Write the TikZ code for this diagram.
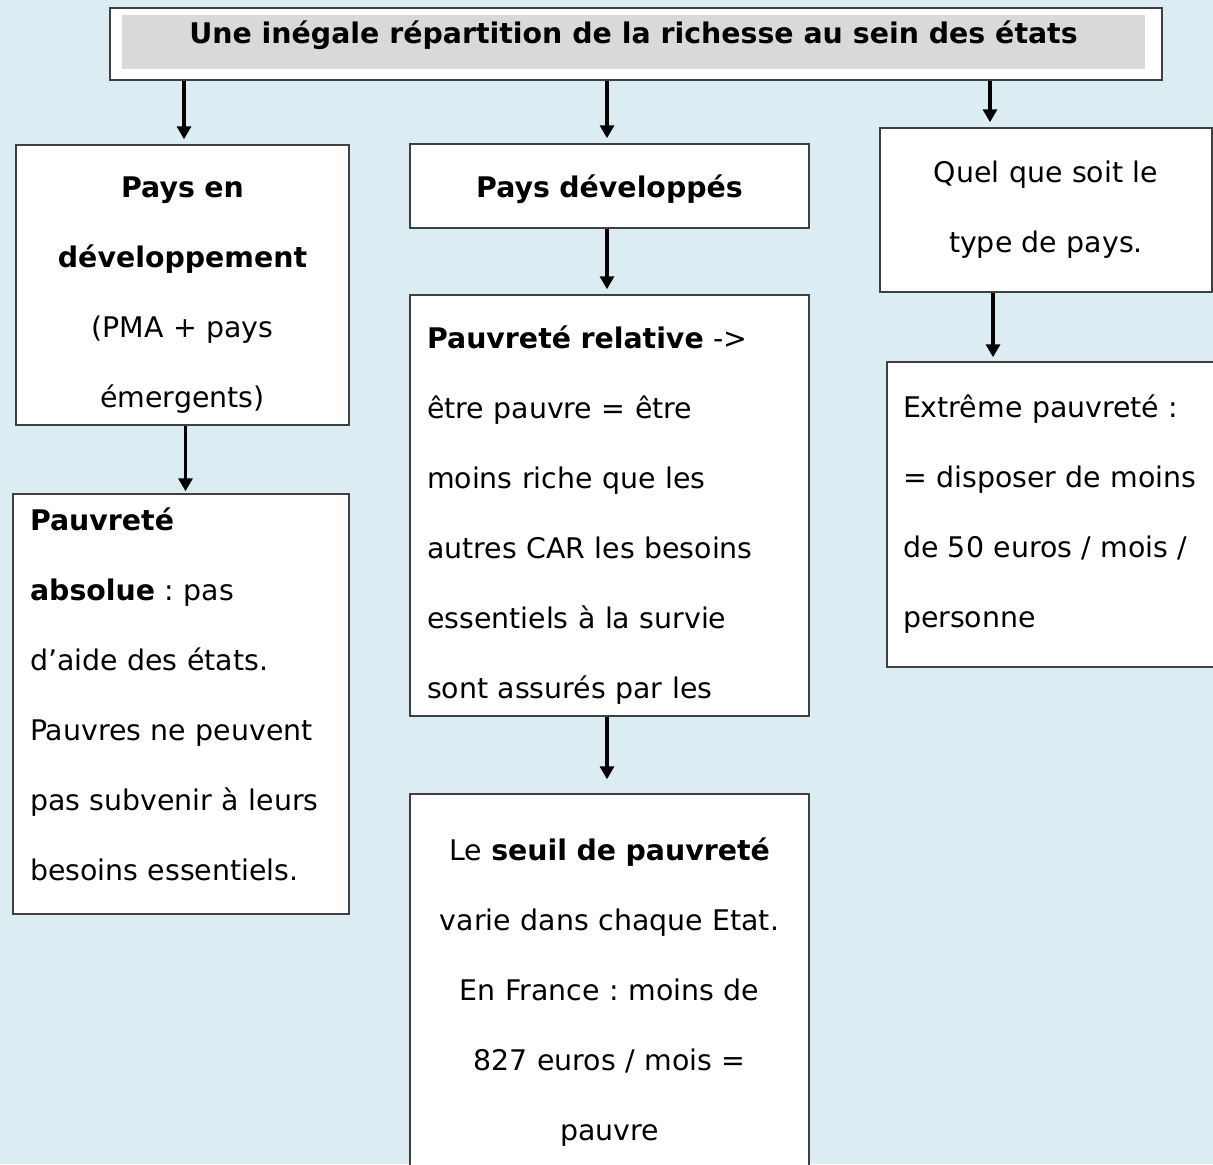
\documentclass[tikz,border=0pt]{standalone}
\usepackage{fontspec}
\setmainfont{DejaVu Sans}
\usetikzlibrary{arrows.meta}
\definecolor{fondbleu}{HTML}{DBEDF3}
\definecolor{grisclair}{HTML}{D9D9D9}
\definecolor{bord}{HTML}{404040}
\frenchspacing
% extra space (or less, if negative) below the last line of a box
\newcommand{\finbas}[1]{\par\vspace*{#1}\hrule height 0pt width 0pt}
\begin{document}
\begin{tikzpicture}
[x=0.5pt,y=-0.5pt,
  boite/.style={shape=rectangle,draw=bord,line width=0.75pt,fill=white,
    inner xsep=8.5pt,inner ysep=0pt,
    font=\fontsize{14.2}{35}\selectfont},%
  centre/.style={boite,align=center},%
  gauche/.style={boite,align=left},%
  fleche/.style={draw,line width=1.9pt,-{Triangle[length=6.5pt,width=7pt]},shorten >=2.5pt}]
\fill[fondbleu] (0,0) rectangle (1213,1164);
\useasboundingbox (0,0) rectangle (1213,1164);
%% title
\node (cadre) at (636,44) [boite,minimum width=526pt,minimum height=36pt] {};
\fill[grisclair] (122,15) rectangle (1145,69);
\node (titre) at (633.5,35) [inner sep=0pt,font=\fontsize{14.2}{17}\selectfont\bfseries]
  {Une inégale répartition de la richesse au sein des états};
%% boxes
\node (pvd) at (182.5,285) [centre,minimum width=166.5pt,minimum height=140pt,text width=149.5pt]
  {\textbf{Pays en}\\ \textbf{développement}\\ (PMA + pays\\ émergents)\finbas{-10pt}};
\node (absolue) at (181,704) [gauche,minimum width=168pt,minimum height=210pt,text width=151pt]
  {\textbf{Pauvreté}\\ \textbf{absolue} : pas\\ d’aide des états.\\ Pauvres ne peuvent\\
   pas subvenir à leurs\\ besoins essentiels.\finbas{10pt}};
\node (pd) at (609.5,186) [centre,minimum width=199.5pt,minimum height=42pt,text width=182.5pt]
  {\textbf{Pays développés}\finbas{-3pt}};
\node (relative) at (609.5,505.5) [gauche,minimum width=199.5pt,minimum height=210.5pt,text width=182.5pt]
  {\textbf{Pauvreté relative} ->\\ être pauvre = être\\ moins riche que les\\
   autres CAR les besoins\\ essentiels à la survie\\ sont assurés par les\finbas{-10pt}};
\node (seuil) at (609.5,992) [centre,minimum width=199.5pt,minimum height=198pt,text width=182.5pt]
  {Le \textbf{seuil de pauvreté}\\ varie dans chaque Etat.\\ En France : moins de\\
   827 euros / mois =\\ pauvre};
\node (tous) at (1046,210) [centre,minimum width=166pt,minimum height=82pt,text width=149pt]
  {Quel que soit le\\ type de pays.};
\node (extreme) at (1063.5,514.5) [gauche,inner xsep=8pt,minimum width=176.5pt,minimum height=152.5pt,text width=160.5pt]
  {Extrême pauvreté :\\ = disposer de moins\\ de 50 euros / mois /\\ personne};
%% arrows
\draw[fleche] ([xshift=0.75pt]pvd.north |- cadre.south) -- ([xshift=0.75pt]pvd.north);
\draw[fleche] ([xshift=-1.25pt]pd.north |- cadre.south) -- ([xshift=-1.25pt]pd.north);
\draw[fleche] ([xshift=-28pt]tous.north |- cadre.south) -- ([xshift=-28pt]tous.north);
\draw[fleche,shorten >=1pt] ([xshift=1.5pt]pvd.south) -- ([xshift=1.5pt]pvd.south |- absolue.north);
\draw[fleche] ([xshift=-1.25pt]pd.south) -- ([xshift=-1.25pt]relative.north);
\draw[fleche,shorten >=7pt] ([xshift=-1.25pt]relative.south) -- ([xshift=-1.25pt]seuil.north);
\draw[fleche,shorten >=2pt] ([xshift=-26.5pt]tous.south) -- ([xshift=-26.5pt]tous.south |- extreme.north);
\end{tikzpicture}
\end{document}
